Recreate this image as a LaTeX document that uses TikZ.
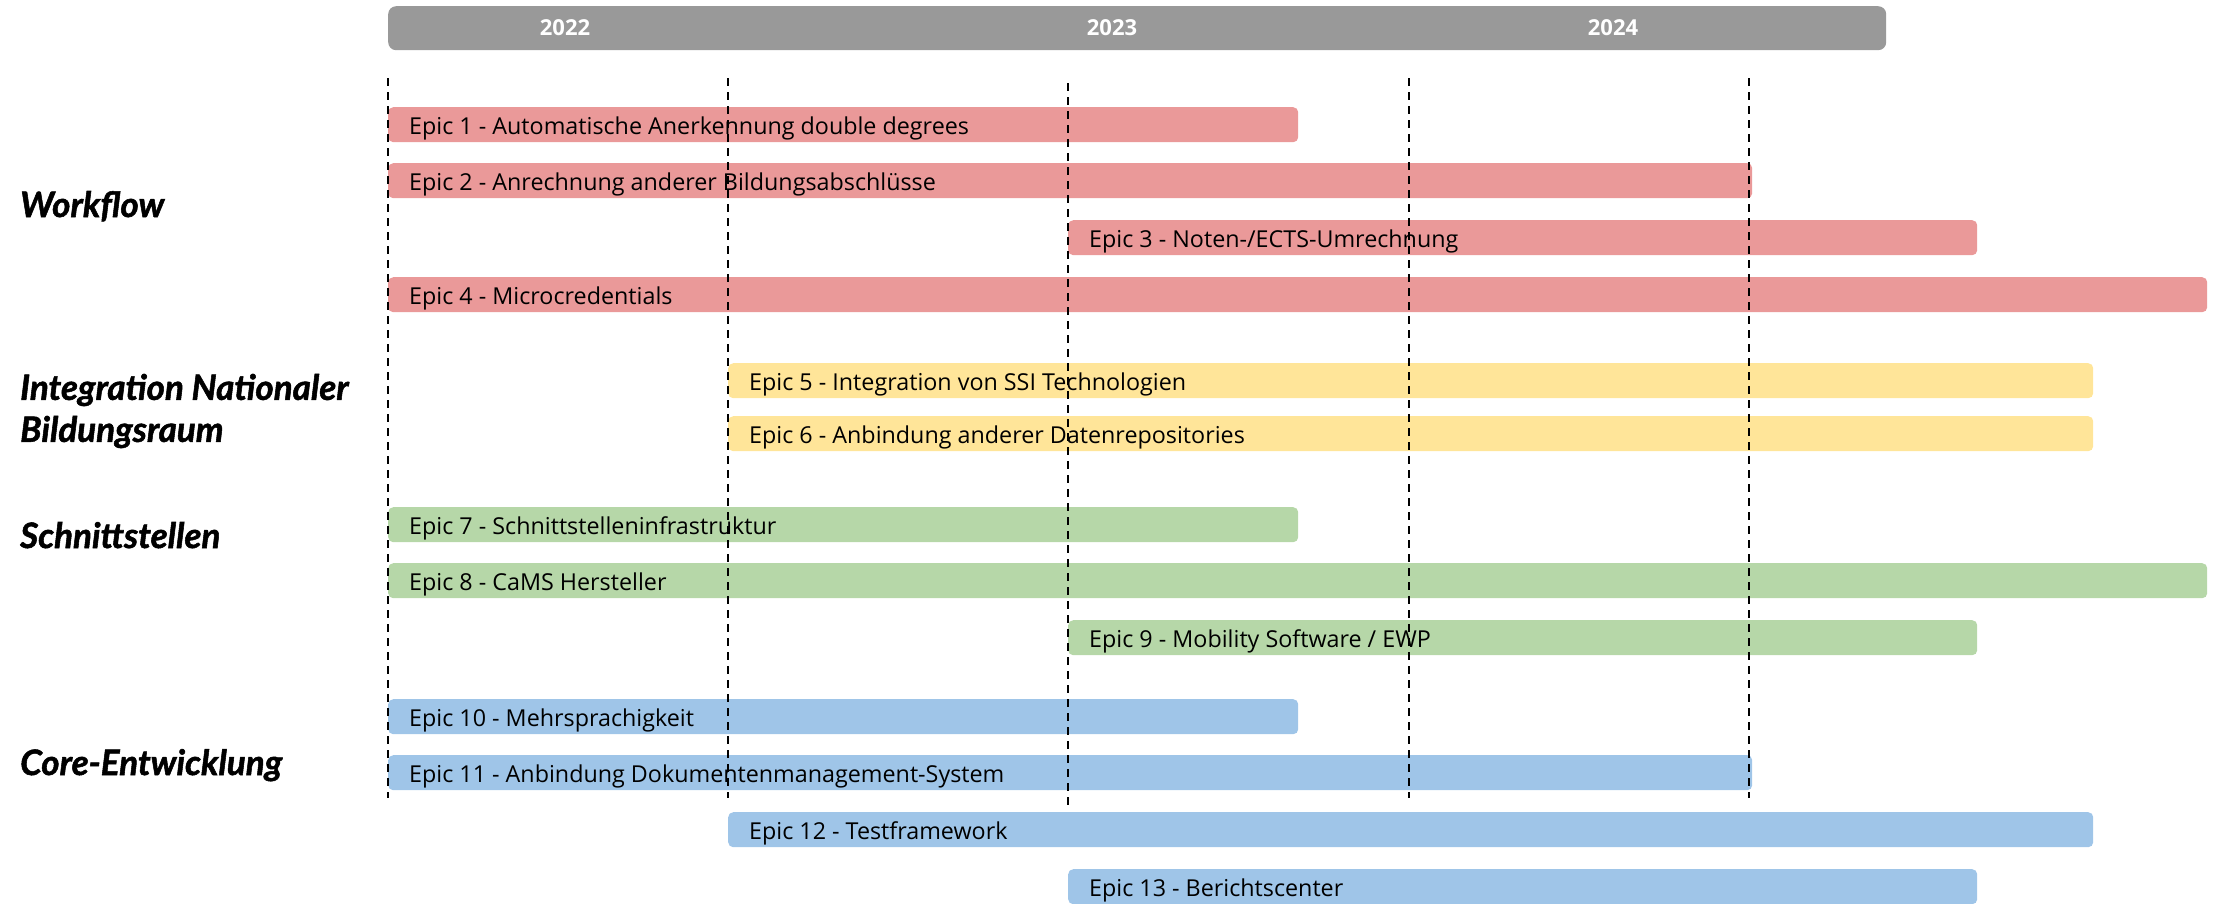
\documentclass[tikz,border=0pt]{standalone}
\usepackage{fontspec}
\setmainfont{Open Sans}
\newfontfamily\catfont{Lato}[BoldItalicFeatures={FakeBold=1.5}]
\usetikzlibrary{calc}
\definecolor{cred}{HTML}{EA9999}
\definecolor{cyellow}{HTML}{FFE599}
\definecolor{cgreen}{HTML}{B6D7A8}
\definecolor{cblue}{HTML}{9FC5E8}
\definecolor{cgray}{HTML}{999999}
\tikzset{
  bar/.style={rectangle, rounded corners=5pt, draw=none, minimum height=35pt, inner sep=0pt, anchor=north west},
  epictext/.style={inner sep=0pt, anchor=base west, font=\fontsize{23.3}{27}\selectfont, text=black},
  yeartext/.style={inner sep=0pt, anchor=center, font=\fontsize{22}{26}\selectfont\bfseries, text=white},
  cattext/.style={inner sep=0pt, font=\catfont\fontsize{35}{42}\selectfont\bfseries\itshape, text=black, align=left},
  grid/.style={line width=2pt, dash pattern=on 8pt off 6pt, black},
  header/.style={rectangle, rounded corners=8pt, fill=cgray, draw=none, minimum height=44pt, inner sep=0pt, anchor=north west}
}
\newcommand{\epicbar}[6]{%
  \node[bar, fill=#5, minimum width={(#3-#2)*1pt}] (#1) at (#2,#4) {};
  \node[epictext] (#1t) at ({#2+21},{#4+27.5}) {#6};
}
\begin{document}
\begin{tikzpicture}[x=1pt,y=-1pt]
\useasboundingbox (0,0) rectangle (2218,903);
% header
\node[header, minimum width=1498pt] (hdr) at (388,6) {};
\node[yeartext] (y22) at (565,28) {2022};
\node[yeartext] (y23) at (1112,28) {2023};
\node[yeartext] (y24) at (1613,28) {2024};
% bars
\epicbar{e1}{388}{1298}{107}{cred}{Epic 1 - Automatische Anerkennung double degrees}
\epicbar{e2}{388}{1752}{163}{cred}{Epic 2 - Anrechnung anderer Bildungsabschlüsse}
\epicbar{e3}{1068}{1977}{220}{cred}{Epic 3 - Noten-/ECTS-Umrechnung}
\epicbar{e4}{388}{2207}{277}{cred}{Epic 4 - Microcredentials}
\epicbar{e5}{728}{2093}{363}{cyellow}{Epic 5 - Integration von SSI Technologien}
\epicbar{e6}{728}{2093}{416}{cyellow}{Epic 6 - Anbindung anderer Datenrepositories}
\epicbar{e7}{388}{1298}{507}{cgreen}{Epic 7 - Schnittstelleninfrastruktur}
\epicbar{e8}{388}{2207}{563}{cgreen}{Epic 8 - CaMS Hersteller}
\epicbar{e9}{1068}{1977}{620}{cgreen}{Epic 9 - Mobility Software / EWP}
\epicbar{e10}{388}{1298}{699}{cblue}{Epic 10 - Mehrsprachigkeit}
\epicbar{e11}{388}{1752}{755}{cblue}{Epic 11 - Anbindung Dokumentenmanagement-System}
\epicbar{e12}{728}{2093}{812}{cblue}{Epic 12 - Testframework}
\epicbar{e13}{1068}{1977}{869}{cblue}{Epic 13 - Berichtscenter}
% category labels
\node[cattext, anchor=base west] (c1) at (20,217) {Workflow};
\node[cattext, anchor=west] (c2) at (20,411) {Integration Nationaler\\Bildungsraum};
\node[cattext, anchor=base west] (c3) at (20,548) {Schnittstellen};
\node[cattext, anchor=base west] (c4) at (20,775) {Core-Entwicklung};
% grid lines
\coordinate (g1a) at (388,78);  \coordinate (g1b) at (388,798);
\coordinate (g2a) at (728,78);  \coordinate (g2b) at (728,798);
\coordinate (g3a) at (1068,83); \coordinate (g3b) at (1068,805);
\coordinate (g4a) at (1409,78); \coordinate (g4b) at (1409,798);
\coordinate (g5a) at (1749,78); \coordinate (g5b) at (1749,798);
\draw[grid] (g1a) -- (g1b);
\draw[grid] (g2a) -- (g2b);
\draw[grid] (g3a) -- (g3b);
\draw[grid] (g4a) -- (g4b);
\draw[grid] (g5a) -- (g5b);
\end{tikzpicture}
\end{document}
